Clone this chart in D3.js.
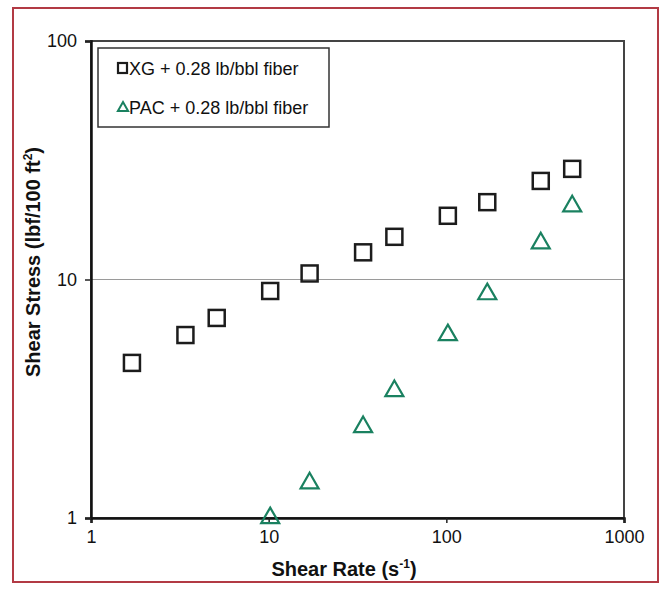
<!DOCTYPE html>
<html lang="en">
<head>
<meta charset="utf-8" />
<title>Shear Stress vs Shear Rate</title>
<script src="https://d3js.org/d3.v7.min.js"></script>
<style>
  body { margin: 0; background: #fff; }
  text { font-family: "Liberation Sans", Arial, sans-serif; fill: #111; }
</style>
</head>
<body>
<script>
// data
const shearRate = [1.7, 3.4, 5.1, 10.2, 17, 34, 51, 102, 170, 340, 511];
const xgStress = [4.47, 5.85, 6.9, 8.95, 10.6, 13.0, 15.1, 18.5, 21.1, 25.9, 29.1];
const pacRate = [10.2, 17, 34, 51, 102, 170, 340, 511];
const pacStress = [1.0, 1.4, 2.41, 3.41, 5.85, 8.69, 14.2, 20.3];
const xTicks = [1, 10, 100, 1000];
const yTicks = [1, 10, 100];
const seriesNames = ["XG + 0.28 lb/bbl fiber", "PAC + 0.28 lb/bbl fiber"];

const W = 661, H = 593;
const plotLeft = 91, plotRight = 624, plotTop = 41, plotBottom = 518;

const svg = d3.select("body").append("svg")
    .attr("width", W)
    .attr("height", H);

// outer red frame
svg.append("rect")
    .attr("x", 13).attr("y", 8)
    .attr("width", 645).attr("height", 574)
    .attr("fill", "none")
    .attr("stroke", "#b23a44")
    .attr("stroke-width", 2);

const x = d3.scaleLog().domain([1, 1000]).range([plotLeft, plotRight]);
const y = d3.scaleLog().domain([1, 100]).range([plotBottom, plotTop]);

// gridline at 10
svg.append("line")
    .attr("x1", plotLeft).attr("x2", plotRight)
    .attr("y1", y(10)).attr("y2", y(10))
    .attr("stroke", "#9a9a9a")
    .attr("stroke-width", 1.2);

// plot frame
svg.append("rect")
    .attr("x", plotLeft).attr("y", plotTop)
    .attr("width", plotRight - plotLeft).attr("height", plotBottom - plotTop)
    .attr("fill", "none")
    .attr("stroke", "#444")
    .attr("stroke-width", 2);

// axes
const xAxis = d3.axisBottom(x).tickValues(xTicks).tickFormat(d3.format("d")).tickSize(5).tickPadding(7);
const yAxis = d3.axisLeft(y).tickValues(yTicks).tickFormat(d3.format("d")).tickSize(6).tickPadding(8);

svg.append("g")
    .attr("transform", `translate(0,${plotBottom})`)
    .call(xAxis)
    .call(g => g.select(".domain").attr("stroke", "#111").attr("stroke-width", 2.5))
    .call(g => g.selectAll(".tick line").attr("stroke", "#222").attr("stroke-width", 1.5))
    .call(g => g.selectAll("text").attr("font-size", 18).attr("font-family", "Liberation Sans, Arial").attr("fill", "#111"));

svg.append("g")
    .attr("transform", `translate(${plotLeft},0)`)
    .call(yAxis)
    .call(g => g.select(".domain").attr("stroke", "#111").attr("stroke-width", 2.5))
    .call(g => g.selectAll(".tick line").attr("stroke", "#222").attr("stroke-width", 1.5))
    .call(g => g.selectAll("text").attr("font-size", 18).attr("font-family", "Liberation Sans, Arial").attr("fill", "#111"));

// axis titles
const xTitle = svg.append("text")
    .attr("x", 344).attr("y", 576)
    .attr("text-anchor", "middle")
    .attr("font-size", 20).attr("font-weight", "bold");
xTitle.append("tspan").text("Shear Rate (s");
xTitle.append("tspan").attr("font-size", 12).attr("dy", -8).text("-1");
xTitle.append("tspan").attr("dy", 8).text(")");

const yTitle = svg.append("text")
    .attr("transform", "translate(40,262) rotate(-90)")
    .attr("text-anchor", "middle")
    .attr("font-size", 20).attr("font-weight", "bold");
yTitle.append("tspan").text("Shear Stress (lbf/100 ft");
yTitle.append("tspan").attr("font-size", 12).attr("dy", -8).text("2");
yTitle.append("tspan").attr("dy", 8).text(")");

// XG squares
const xg = shearRate.map((r, i) => [r, xgStress[i]]);
svg.selectAll(".sq").data(xg).enter().append("rect")
    .attr("class", "sq")
    .attr("x", d => x(d[0]) - 8)
    .attr("y", d => y(d[1]) - 8)
    .attr("width", 16).attr("height", 16)
    .attr("fill", "none")
    .attr("stroke", "#1c1c1c")
    .attr("stroke-width", 2.5);

// PAC triangles
const pac = pacRate.map((r, i) => [r, pacStress[i]]);
const tri = d3.symbol().type(d3.symbolTriangle).size(140);
svg.selectAll(".tri").data(pac).enter().append("path")
    .attr("class", "tri")
    .attr("d", tri)
    .attr("transform", d => `translate(${x(d[0])},${y(d[1])})`)
    .attr("fill", "none")
    .attr("stroke", "#1a8160")
    .attr("stroke-width", 2.2);

// legend
svg.append("rect")
    .attr("x", 98).attr("y", 48)
    .attr("width", 231).attr("height", 79)
    .attr("fill", "#fff")
    .attr("stroke", "#333")
    .attr("stroke-width", 1.5);

svg.append("rect")
    .attr("x", 118).attr("y", 63)
    .attr("width", 9).attr("height", 10)
    .attr("fill", "none").attr("stroke", "#1c1c1c").attr("stroke-width", 2.2);
svg.append("text")
    .attr("x", 129).attr("y", 75)
    .attr("font-size", 18)
    .text(seriesNames[0]);

svg.append("path")
    .attr("d", d3.symbol().type(d3.symbolTriangle).size(45))
    .attr("transform", "translate(123,108)")
    .attr("fill", "none").attr("stroke", "#1a8160").attr("stroke-width", 2);
svg.append("text")
    .attr("x", 129).attr("y", 114)
    .attr("font-size", 18)
    .text(seriesNames[1]);
</script>
</body>
</html>
